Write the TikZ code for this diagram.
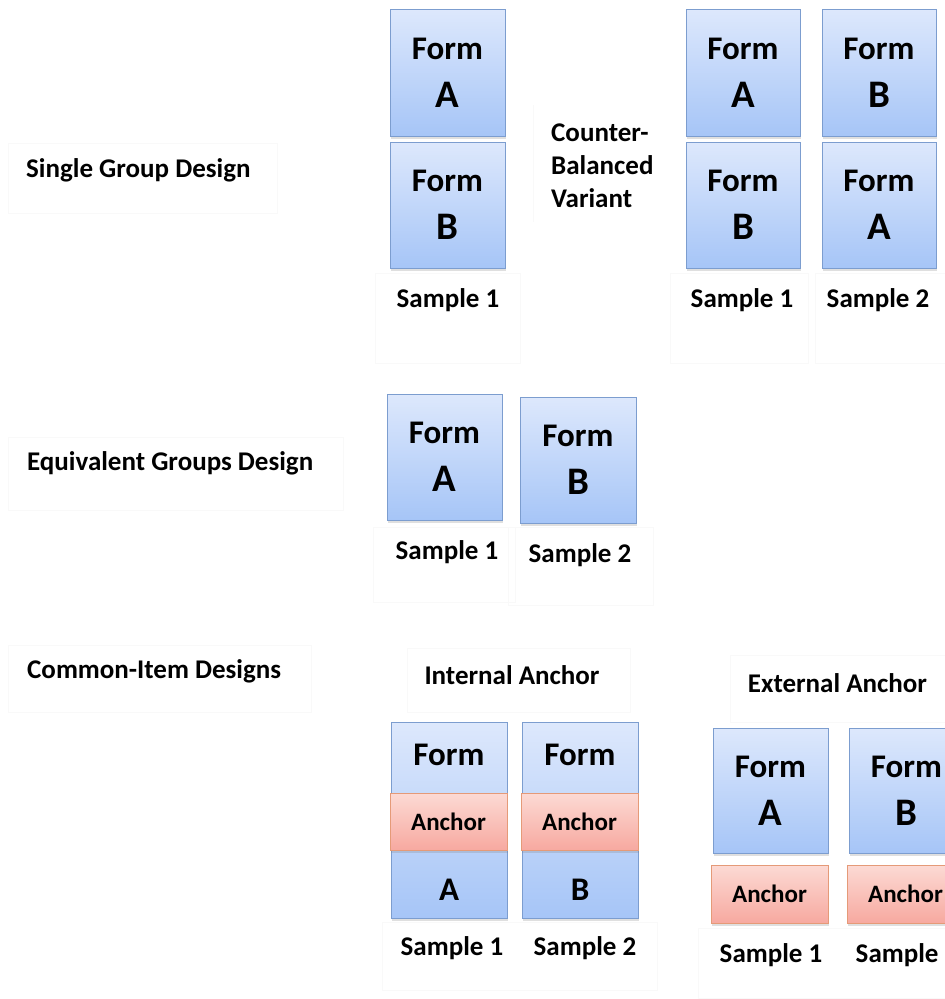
\documentclass[tikz,border=0pt]{standalone}
\usepackage{fontspec}
\setmainfont{Carlito}
\usetikzlibrary{shadows}

\definecolor{formtop}{HTML}{DDE8FC}
\definecolor{formbot}{HTML}{A6C5F7}
\definecolor{formline}{HTML}{7C9DCF}
\definecolor{anctop}{HTML}{FCDAD4}
\definecolor{ancbot}{HTML}{F7A9A0}
\definecolor{ancline}{HTML}{E59A78}
\definecolor{faint}{HTML}{F9F9F9}

\newcommand{\formletter}[1]{{\fontsize{39}{48}\selectfont #1}}

\tikzset{
  formbox/.style={rectangle, draw=formline, line width=0.8pt,
    top color=formtop, bottom color=formbot,
    drop shadow={opacity=0.25, shadow xshift=0.8pt, shadow yshift=-2.5pt},
    inner sep=0pt, align=center,
    font=\fontsize{33}{48}\selectfont\bfseries},
  ancbox/.style={rectangle, draw=ancline, line width=0.8pt,
    top color=anctop, bottom color=ancbot,
    drop shadow={opacity=0.25, shadow xshift=0.8pt, shadow yshift=-2.5pt},
    inner sep=0pt, font=\fontsize{25}{30}\selectfont\bfseries},
  bigtxt/.style={inner sep=0pt, font=\fontsize{33}{40}\selectfont\bfseries},
  lbl/.style={inner sep=0pt, font=\fontsize{27}{33}\selectfont\bfseries},
  ghost/.style={draw=faint, line width=0.5pt}
}

\begin{document}
\begin{tikzpicture}[x=1pt, y=-1pt]
\useasboundingbox (0,0) rectangle (945,999);
\clip (0,0) rectangle (945,999);
\fill[white] (0,0) rectangle (945,999);

% faint text-box outlines
\draw[ghost] (8,143) rectangle (277,213);
\draw[ghost] (375,273) rectangle (520,363);
\draw[ghost] (533,105) -- (533,222);
\draw[ghost] (670,273) rectangle (808,363);
\draw[ghost] (815,273) rectangle (950,363);
\draw[ghost] (8,437) rectangle (343,510);
\draw[ghost] (373,527) rectangle (515,602);
\draw[ghost] (508,527) rectangle (653,605);
\draw[ghost] (8,645) rectangle (311,712);
\draw[ghost] (407,648) rectangle (630,712);
\draw[ghost] (382,922) rectangle (657,990);
\draw[ghost] (730,655) rectangle (950,722);
\draw[ghost] (698,928) rectangle (950,998);

% ---- Single group design
\node[lbl, anchor=west] (sgd) at (26,170) {Single Group Design};
\node[formbox, minimum width=115pt, minimum height=127pt] (sgA) at (447.5,72.5) {Form\\\formletter{A}};
\node[formbox, minimum width=115pt, minimum height=126pt] (sgB) at (447.5,205) {Form\\\formletter{B}};
\node[lbl] (sgS1) at (448,300) {Sample 1};

\node[lbl, anchor=west, align=left] (cbv) at (551,166) {Counter-\\Balanced\\Variant};
\node[formbox, minimum width=114pt, minimum height=127pt] (cbA1) at (743,72.5) {Form\\\formletter{A}};
\node[formbox, minimum width=114pt, minimum height=126pt] (cbB1) at (743,205) {Form\\\formletter{B}};
\node[formbox, minimum width=114pt, minimum height=127pt] (cbB2) at (879,72.5) {Form\\\formletter{B}};
\node[formbox, minimum width=114pt, minimum height=126pt] (cbA2) at (879,205) {Form\\\formletter{A}};
\node[lbl] (cbS1) at (742,300) {Sample 1};
\node[lbl] (cbS2) at (878,300) {Sample 2};

% ---- Equivalent groups design
\node[lbl, anchor=west] (egd) at (27,463) {Equivalent Groups Design};
\node[formbox, minimum width=115pt, minimum height=126pt] (egA) at (444.5,457) {Form\\\formletter{A}};
\node[formbox, minimum width=116pt, minimum height=126pt] (egB) at (578,460) {Form\\\formletter{B}};
\node[lbl] (egS1) at (447,552) {Sample 1};
\node[lbl] (egS2) at (580,555) {Sample 2};

% ---- Common-item designs
\node[lbl, anchor=west] (cid) at (27,671) {Common-Item Designs};

% internal anchor
\node[lbl] (intl) at (512,675) {Internal Anchor};
\node[formbox, minimum width=116pt, minimum height=196pt] (inA) at (449,820) {};
\node[formbox, minimum width=116pt, minimum height=196pt] (inB) at (580,820) {};
\node[bigtxt] (inAf) at (449,755) {Form};
\node[bigtxt] (inBf) at (580,755) {Form};
\node[ancbox, minimum width=117pt, minimum height=57pt] (inAanc) at (448.5,821.5) {Anchor};
\node[ancbox, minimum width=117pt, minimum height=57pt] (inBanc) at (579.5,821.5) {Anchor};
\node[bigtxt] (inAl) at (449,890) {A};
\node[bigtxt] (inBl) at (580,890) {B};
\node[lbl] (inS1) at (452,948) {Sample 1};
\node[lbl] (inS2) at (585,948) {Sample 2};

% external anchor
\node[lbl] (extl) at (837.5,683) {External Anchor};
\node[formbox, minimum width=115pt, minimum height=125pt] (exA) at (770.5,790.5) {Form\\\formletter{A}};
\node[formbox, minimum width=115pt, minimum height=125pt] (exB) at (906.5,790.5) {Form\\\formletter{B}};
\node[ancbox, minimum width=117pt, minimum height=58pt] (exAanc) at (769.5,894) {Anchor};
\node[ancbox, minimum width=117pt, minimum height=58pt] (exBanc) at (905.5,894) {Anchor};
\node[lbl] (exS1) at (771,955) {Sample 1};
\node[lbl] (exS2) at (907,955) {Sample 2};
\end{tikzpicture}
\end{document}
